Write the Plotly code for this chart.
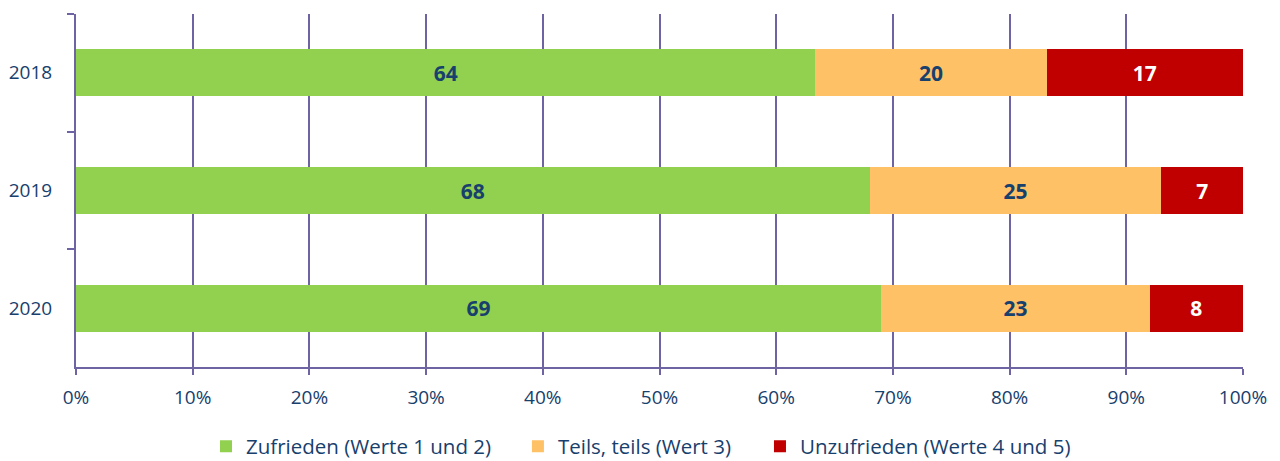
import plotly.graph_objects as go

years = ["2018", "2019", "2020"]
series_names = ["Zufrieden (Werte 1 und 2)", "Teils, teils (Wert 3)", "Unzufrieden (Werte 4 und 5)"]
zufrieden = [64, 68, 69]
teils = [20, 25, 23]
unzufrieden = [17, 7, 8]
x_ticks = [0, 10, 20, 30, 40, 50, 60, 70, 80, 90, 100]

colors = ["#92D050", "#FFC166", "#C00000"]
label_colors = ["#17406D", "#17406D", "#FFFFFF"]
txt = "#17406D"
grid = "#6E64A4"
font_family = "'Open Sans', sans-serif"

legend_ids = ["legend", "legend2", "legend3"]
legend_x = [0.1114, 0.3787, 0.5861]

fig = go.Figure()
for name, vals, c, lc, lid in zip(series_names, [zufrieden, teils, unzufrieden], colors, label_colors, legend_ids):
    fig.add_trace(go.Bar(
        y=years, x=vals, name=name, orientation="h", legend=lid,
        marker=dict(color=c, line=dict(width=0)),
        text=[str(v) for v in vals], texttemplate="%{text}",
        textposition="inside", insidetextanchor="middle",
        textfont=dict(color=lc, size=21, family=font_family, weight="bold"),
        hoverinfo="skip",
    ))

leg_common = dict(orientation="v", y=-0.2818, yanchor="bottom", xanchor="left",
                  font=dict(size=20.5, color=txt, family=font_family),
                  itemwidth=30, bgcolor="rgba(0,0,0,0)", borderwidth=0)

fig.update_layout(
    barmode="stack", barnorm="percent", bargap=0.6,
    width=1280, height=461,
    margin=dict(l=76, r=37, t=14, b=94, autoexpand=False),
    plot_bgcolor="white", paper_bgcolor="white",
    font=dict(family=font_family, color=txt, size=19),
    legend=dict(x=legend_x[0], **leg_common),
    legend2=dict(x=legend_x[1], **leg_common),
    legend3=dict(x=legend_x[2], **leg_common),
    showlegend=True,
)
fig.update_xaxes(
    range=[0, 100], tickvals=x_ticks, ticktext=[f"{v}%" for v in x_ticks],
    showgrid=True, gridcolor=grid, gridwidth=2,
    showline=True, linecolor=grid, linewidth=2,
    ticks="outside", ticklen=6, tickcolor=grid, tickwidth=2,
    zeroline=False, tickfont=dict(size=19, color=txt), ticklabelstandoff=6,
)
fig.update_yaxes(
    categoryorder="array", categoryarray=years, autorange="reversed",
    tickson="boundaries", ticks="outside", ticklen=7, tickcolor=grid, tickwidth=2,
    showline=True, linecolor=grid, linewidth=2, showgrid=False,
    tickfont=dict(size=19, color=txt), ticklabelstandoff=18,
)

fig.write_html("out.html", config={"displayModeBar": False},
               post_script="document.body.style.margin='0';")
